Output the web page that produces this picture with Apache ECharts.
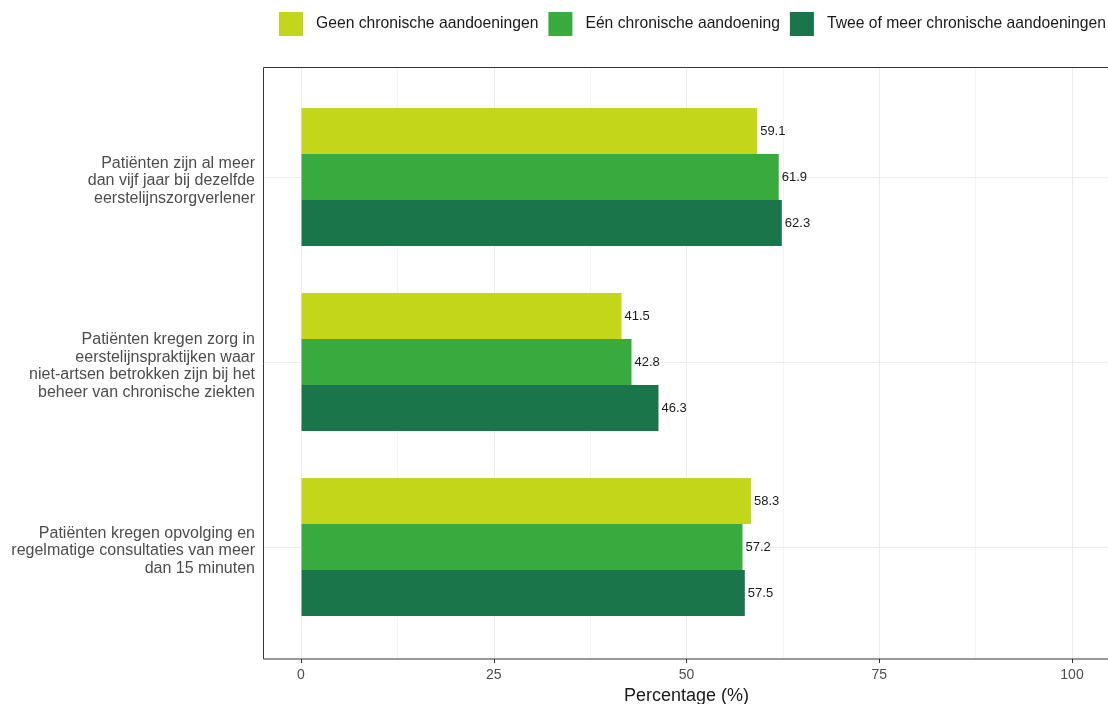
<!DOCTYPE html>
<html><head><meta charset="utf-8">
<script src="https://cdn.jsdelivr.net/npm/echarts@6/dist/echarts.min.js"></script>
<style>html,body{margin:0;padding:0;background:#fff}#c{width:1108px;height:704px}</style>
</head><body><div id="c"></div>
<script>
const categories = [
  "Patiënten zijn al meer\ndan vijf jaar bij dezelfde\neerstelijnszorgverlener",
  "Patiënten kregen zorg in\neerstelijnspraktijken waar\nniet-artsen betrokken zijn bij het\nbeheer van chronische ziekten",
  "Patiënten kregen opvolging en\nregelmatige consultaties van meer\ndan 15 minuten"
];
const seriesNames = ["Geen chronische aandoeningen", "Eén chronische aandoening", "Twee of meer chronische aandoeningen"];
const geen = [59.1, 41.5, 58.3];
const een = [61.9, 42.8, 57.2];
const tweeOfMeer = [62.3, 46.3, 57.5];
const xTicks = [0, 25, 50, 75, 100];
const colors = ["#C4D61A", "#39AB3E", "#1B754A"];

const font = "'Liberation Sans', Arial, sans-serif";
const chart = echarts.init(document.getElementById('c'));
const barLabel = {show: true, position: 'right', distance: 3, fontSize: 13, color: '#1a1a1a', fontFamily: font, formatter: p => p.value.toFixed(1)};
function barSeries(i, data) {
  return {name: seriesNames[i], type: 'bar', xAxisIndex: 1, yAxisIndex: 1, data: data,
    barWidth: 46, barGap: '0%', itemStyle: {color: colors[i]}, label: barLabel, z: 5};
}
chart.setOption({
  animation: false,
  textStyle: {fontFamily: font},
  legend: {
    top: 12, left: 279, width: 1000, padding: 0, itemWidth: 24, itemHeight: 24, itemGap: 10, icon: 'rect',
    textStyle: {fontSize: 15.7, fontFamily: font, color: '#1a1a1a', padding: [0, 0, 0, 8]},
    data: seriesNames
  },
  graphic: [{type: 'rect', shape: {x: 263.5, y: 67.5, width: 850, height: 591.5}, style: {fill: null, stroke: '#333', lineWidth: 1}, z: 10}],
  grid: [
    {left: 301, width: 771, top: 67, height: 592, outerBoundsMode: 'none', containLabel: false},
    {left: 263, width: 848, top: 84.5, height: 555, outerBoundsMode: 'none', containLabel: false},
    {left: 263, width: 848, top: 88.5, height: 555, outerBoundsMode: 'none', containLabel: false}
  ],
  xAxis: [
    {type: 'value', gridIndex: 0, min: 0, max: 100, interval: 25, position: 'bottom',
      name: 'Percentage (%)', nameLocation: 'middle', nameGap: 25,
      nameTextStyle: {fontSize: 18, fontFamily: font, color: '#1a1a1a'},
      axisLine: {show: false, onZero: false},
      axisTick: {show: true, inside: false, length: 4, lineStyle: {color: '#333'}},
      axisLabel: {fontSize: 14, fontFamily: font, color: '#4d4d4d', margin: 9},
      splitLine: {show: true, lineStyle: {color: '#ebebeb', width: 1}},
      minorTick: {show: false, splitNumber: 2},
      minorSplitLine: {show: true, lineStyle: {color: '#f5f5f5', width: 1}}
    },
    {type: 'value', gridIndex: 1, min: -5, max: 105, show: false, splitLine: {show: false}},
    {type: 'value', gridIndex: 2, min: -5, max: 105, show: false, splitLine: {show: false}}
  ],
  yAxis: [
    {type: 'value', gridIndex: 0, min: 0, max: 1, show: false, splitLine: {show: false}},
    {type: 'category', gridIndex: 1, inverse: true, data: categories,
      axisLine: {show: false},
      axisTick: {show: true, alignWithLabel: true, length: 4, lineStyle: {color: '#333'}},
      axisLabel: {show: false},
      splitLine: {show: false}
    },
    {type: 'category', gridIndex: 2, inverse: true, data: categories,
      axisLine: {show: false},
      axisTick: {show: false},
      axisLabel: {fontSize: 16, fontFamily: font, lineHeight: 17.5, color: '#4d4d4d', margin: 8, align: 'right'},
      splitLine: {show: false}
    }
  ],
  series: [
    {type: 'line', xAxisIndex: 1, yAxisIndex: 1, data: [], z: 1, silent: true,
      markLine: {silent: true, z: 1, symbol: 'none', label: {show: false},
        lineStyle: {color: '#ebebeb', width: 1, type: 'solid'},
        data: categories.map(c => ({yAxis: c}))}},
    barSeries(0, geen),
    barSeries(1, een),
    barSeries(2, tweeOfMeer)
  ]
});
</script></body></html>
